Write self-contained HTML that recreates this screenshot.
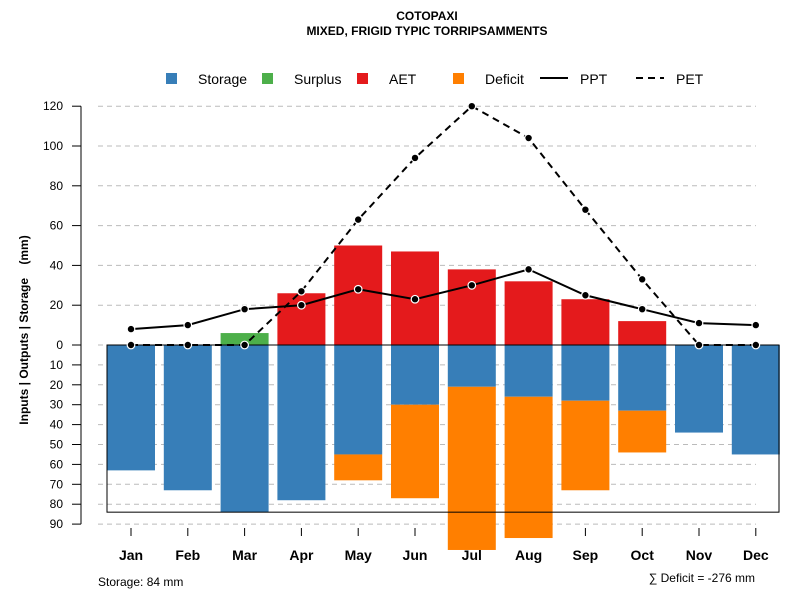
<!DOCTYPE html>
<html><head><meta charset="utf-8"><style>
body{margin:0;background:#fff}
svg{font-family:"Liberation Sans",sans-serif}
</style></head><body>
<svg id="c" width="800" height="600" xmlns="http://www.w3.org/2000/svg">
<text x="427" y="20" text-anchor="middle" font-size="12" font-weight="bold">COTOPAXI</text>
<text x="427" y="35" text-anchor="middle" font-size="12" font-weight="bold">MIXED, FRIGID TYPIC TORRIPSAMMENTS</text>
<g id="legend" font-size="14">
<g><rect x="166" y="73" width="11" height="11" fill="#377EB8"/><text x="198" y="84">Storage</text></g>
<g><rect x="262" y="73" width="11" height="11" fill="#4DAF4A"/><text x="294" y="84">Surplus</text></g>
<g><rect x="357" y="73" width="11" height="11" fill="#E41A1C"/><text x="389" y="84">AET</text></g>
<g><rect x="453" y="73" width="11" height="11" fill="#FF7F00"/><text x="485" y="84">Deficit</text></g>
<g><line x1="540" y1="78" x2="568" y2="78" stroke="#000" stroke-width="2"/><text x="580" y="84">PPT</text></g>
<g><line x1="636" y1="78" x2="664" y2="78" stroke="#000" stroke-width="2" stroke-dasharray="7,5"/><text x="676" y="84">PET</text></g>
</g>
<text transform="translate(28,330) rotate(-90)" text-anchor="middle" font-size="12" font-weight="bold" xml:space="preserve" style="white-space:pre">Inputs | Outputs | Storage    (mm)</text>
<text x="98" y="586" font-size="12">Storage: 84 mm</text>
<text x="755" y="582" text-anchor="end" font-size="12">∑ Deficit = -276 mm</text>
</svg>
<script>
const months=["Jan","Feb","Mar","Apr","May","Jun","Jul","Aug","Sep","Oct","Nov","Dec"];
const storage=[63,73,84,78,55,30,21,26,28,33,44,55];
const deficit=[0,0,0,0,13,47,82,71,45,21,0,0];
const surplus=[0,0,6,0,0,0,0,0,0,0,0,0];
const aet=[0,0,0,26,50,47,38,32,23,12,0,0];
const ppt=[8,10,18,20,28,23,30,38,25,18,11,10];
const pet=[0,0,0,27,63,94,120,104,68,33,0,0];
const posTicks=[0,20,40,60,80,100,120];
const negTicks=[10,20,30,40,50,60,70,80,90];
const soilStorage=84;
const NS="http://www.w3.org/2000/svg";
const svg=document.getElementById('c');
const y0=345,k=1.99;
const Y=v=>y0-v*k;
const X=i=>131+i*56.8;
const bw=48;
function mk(t,a,p){const e=document.createElementNS(NS,t);for(const q in a)e.setAttribute(q,a[q]);(p||svg).appendChild(e);return e;}
const grid=mk('g',{});


const ax=mk('g',{'font-size':'12'});


const allT=posTicks.map(v=>[v,v]).concat(negTicks.map(v=>[-v,v]));
allT.forEach(([v,l])=>{
 mk('line',{x1:98,x2:756,y1:Y(v),y2:Y(v),stroke:'#bbb','stroke-dasharray':'5,4'},grid);
 mk('line',{x1:72,x2:81,y1:Y(v),y2:Y(v),stroke:'#000'},ax);
 const t=mk('text',{x:63,y:Y(v)+4,'text-anchor':'end'},ax);t.textContent=l;
});
mk('line',{x1:81,x2:81,y1:Y(120),y2:Y(-90),stroke:'#000'},ax);
const bars=mk('g',{});


months.forEach((m,i)=>{
 const x=X(i)-bw/2;
 let r=mk('rect',{x:x,y:y0,width:bw,height:storage[i]*k,fill:'#377EB8'},bars);
 
 
 if(deficit[i]>0){r=mk('rect',{x:x,y:Y(-storage[i]),width:bw,height:deficit[i]*k,fill:'#FF7F00'},bars);
 
 }
 if(aet[i]>0){r=mk('rect',{x:x,y:Y(aet[i]),width:bw,height:aet[i]*k,fill:'#E41A1C'},bars);
 
 }
 if(surplus[i]>0){r=mk('rect',{x:x,y:Y(aet[i]+surplus[i]),width:bw,height:surplus[i]*k,fill:'#4DAF4A'},bars);
 
 }
 mk('line',{x1:X(i),x2:X(i),y1:528,y2:536,stroke:'#000'},ax);
 const t=mk('text',{x:X(i),y:560,'text-anchor':'middle','font-weight':'bold','font-size':'14'},ax);t.textContent=m;
});
const box=mk('rect',{x:107,y:y0,width:672,height:soilStorage*k,fill:'none',stroke:'#000'});


function line(vals,dash,name){
 const p=mk('polyline',{points:vals.map((v,i)=>X(i)+','+Y(v)).join(' '),fill:'none',stroke:'#000','stroke-width':2,'stroke-dasharray':dash});
 
 
 vals.forEach((v,i)=>{const c=mk('circle',{cx:X(i),cy:Y(v),r:3.8,fill:'#000',stroke:'#fff','stroke-width':1.2});
 
 });
}
line(pet,'7,5','pet');
line(ppt,'none','ppt');
</script>
</body></html>
